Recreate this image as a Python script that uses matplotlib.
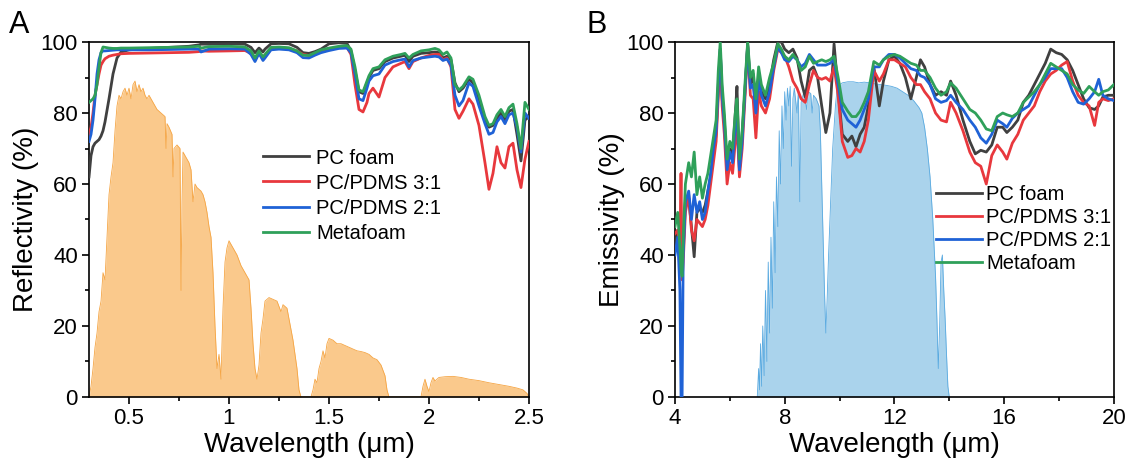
import numpy as np
import matplotlib
matplotlib.use("Agg")
import matplotlib.pyplot as plt
from matplotlib.ticker import MultipleLocator, FormatStrFormatter

plt.rcParams.update({
    "font.family": ["Liberation Sans", "DejaVu Sans"],
    "axes.linewidth": 1.2,
})

# ---------------- panel A: solar reflectivity ----------------
wl_a = [0.30, 0.31, 0.32, 0.33, 0.34, 0.35, 0.36, 0.37, 0.38, 0.40, 0.42, 0.44,
        0.46, 0.50, 0.60, 0.70, 0.80, 0.85, 0.86, 0.90, 1.00, 1.08, 1.11, 1.13,
        1.15, 1.17, 1.18, 1.21, 1.25, 1.30, 1.34, 1.37, 1.40, 1.43, 1.46, 1.50,
        1.55, 1.59, 1.61, 1.63, 1.65, 1.67, 1.69, 1.70, 1.72, 1.75, 1.78, 1.82,
        1.86, 1.88, 1.90, 1.92, 1.96, 2.00, 2.03, 2.05, 2.07, 2.09, 2.11, 2.13,
        2.15, 2.17, 2.20, 2.22, 2.25, 2.28, 2.30, 2.32, 2.34, 2.36, 2.38, 2.40,
        2.42, 2.44, 2.46, 2.48, 2.50]

refl_pc = [62, 68, 70.5, 71.5, 72, 72.5, 73.5, 75, 77.5, 84, 91, 95.5,
           97.2, 97.8, 98.2, 98.5, 98.8, 99.2, 99.4, 99.4, 99.5, 99.4, 98.5, 97,
           98.3, 97.2, 98, 99.5, 99.6, 99.5, 98.5, 97, 96.8, 97.3, 98, 99.5,
           99.8, 99.6, 97.5, 92, 86, 85.5, 88.5, 90, 92, 92.5, 94.5, 95.5,
           96, 96.3, 94.5, 96, 96.8, 97, 97.2, 97, 95.5, 96, 95, 88.5,
           86, 87, 89.5, 88.5, 84, 78, 76, 76.5, 78.5, 80, 78, 80.5,
           81, 74, 66.5, 78, 79]
refl_31 = [74, 76, 80, 85, 88, 91, 93.5, 94.5, 95.3, 96, 96.3, 96.5,
           96.7, 96.8, 96.9, 97, 97.1, 97.3, 97.5, 97.4, 97.5, 97.6, 96.8, 95,
           97, 95.2, 96, 98, 98.3, 98.2, 97.5, 96.5, 96.2, 96.8, 97.2, 97.8,
           98.5, 98.5, 96.5, 88, 81, 80.3, 83, 85.5, 87, 84.5, 90, 93,
           94, 94.5, 92.5, 94.5, 95.5, 96.2, 96.5, 96.5, 95, 95.5, 93, 81,
           78.5, 80.5, 84, 82.5, 76.5, 66, 58.5, 63, 70.5, 66, 64.5, 70.5,
           71.5, 64, 59, 67, 72]
refl_21 = [72, 74, 78, 84, 91, 95, 97, 97.5, 97.5, 97.6, 97.7, 97.8,
           97.8, 97.8, 97.8, 97.9, 98, 98, 97.2, 98, 98.1, 98, 96.5, 94.5,
           96.8, 94.8, 95.5, 97.8, 98, 97.8, 97, 95.6, 95.5, 96.3, 97, 97.6,
           98.2, 98.3, 97, 91, 84, 83.5, 87, 89, 90.5, 91, 93.5, 94.5,
           95, 95.2, 93, 94.8, 95.5, 95.8, 96, 95.8, 94.8, 95.2, 93.5, 85,
           82, 83.5, 88.5, 87.5, 82, 77, 74, 74.5, 77.5, 79, 77, 79.5,
           80, 76, 69, 80, 78.5]
refl_meta = [83, 83.5, 84, 85, 88, 93, 97, 98.6, 98.5, 98.3, 98.2, 98.2,
             98.3, 98.3, 98.4, 98.5, 98.6, 98.8, 98.3, 98.7, 98.8, 98.6, 97.5, 95.5,
             97.5, 95.8, 96.5, 98.5, 98.6, 98.4, 97.5, 96.3, 96.2, 97, 97.8, 98.3,
             98.8, 99, 98, 93, 86.5, 86, 89, 90.5, 92.5, 93, 95, 96,
             96.5, 96.8, 95.5, 96.5, 97.5, 97.8, 98.2, 97.8, 96.5, 97.2, 95.5, 88,
             86.5, 87.5, 90.2, 89.5, 85, 79, 76.5, 77, 79.5, 81, 79, 81.5,
             82.5, 77, 70, 83, 81]

# AM1.5 solar spectrum (normalised)
sun_wl = [0.30, 0.31, 0.32, 0.33, 0.34, 0.35, 0.36, 0.37, 0.38, 0.39, 0.40, 0.41,
          0.42, 0.43, 0.44, 0.45, 0.46, 0.47, 0.48, 0.49, 0.50, 0.51, 0.52, 0.53,
          0.54, 0.55, 0.56, 0.57, 0.58, 0.59, 0.60, 0.62, 0.64, 0.66, 0.68, 0.685,
          0.69, 0.70, 0.715, 0.72, 0.725, 0.74, 0.755, 0.76, 0.765, 0.77, 0.78, 0.80,
          0.81, 0.82, 0.83, 0.84, 0.86, 0.87, 0.88, 0.89, 0.90, 0.91, 0.92, 0.93,
          0.94, 0.95, 0.96, 0.97, 0.98, 0.99, 1.00, 1.02, 1.04, 1.06, 1.08, 1.10,
          1.11, 1.12, 1.13, 1.14, 1.15, 1.16, 1.17, 1.18, 1.20, 1.22, 1.24, 1.26,
          1.27, 1.29, 1.30, 1.32, 1.34, 1.35, 1.36, 1.41, 1.42, 1.43, 1.44, 1.45,
          1.46, 1.47, 1.48, 1.49, 1.50, 1.52, 1.54, 1.56, 1.58, 1.60, 1.62, 1.64,
          1.66, 1.68, 1.70, 1.72, 1.74, 1.76, 1.78, 1.79, 1.80, 1.96, 1.97, 1.98,
          1.99, 2.00, 2.01, 2.02, 2.03, 2.05, 2.08, 2.12, 2.16, 2.20, 2.25, 2.30,
          2.35, 2.40, 2.44, 2.47, 2.49, 2.50]
sun_val = [0, 3, 8, 14, 18, 24, 27, 35, 33, 45, 57, 62,
           66, 75, 82, 85, 84, 86, 87, 85, 87, 84, 88, 89,
           86, 88, 86, 87, 85, 84, 85, 83, 81, 80, 79, 70,
           77, 76, 74, 62, 70, 71, 70, 30, 55, 69, 68, 66,
           64, 55, 60, 59, 58, 57, 55, 52, 48, 45, 35, 20,
           8, 12, 5, 25, 38, 42, 44, 42, 40, 37, 35, 33,
           25, 15, 8, 5, 9, 18, 22, 27, 28, 27.5, 27, 24,
           26, 25, 22, 16, 8, 2, 0, 0, 2, 5, 4, 8,
           10, 13, 11, 15, 16.5, 16, 15, 15, 14.5, 14, 13.5, 13,
           12.8, 12.5, 12, 11, 10.5, 9, 6, 2, 0, 0, 3, 5,
           3, 1.5, 4, 5.5, 4.5, 5.5, 5.7, 5.8, 5.5, 5, 4.6, 4,
           3.5, 3, 2.5, 2, 1, 0]

# ---------------- panel B: mid-IR emissivity ----------------
wl_b = [4.0, 4.1, 4.18, 4.22, 4.26, 4.3, 4.38, 4.5, 4.6, 4.7, 4.8, 4.9,
        5.0, 5.1, 5.2, 5.3, 5.4, 5.5, 5.58, 5.65, 5.72, 5.8, 5.9, 6.0,
        6.1, 6.2, 6.26, 6.35, 6.45, 6.55, 6.65, 6.75, 6.85, 6.95, 7.05, 7.15,
        7.3, 7.45, 7.6, 7.75, 7.88, 8.0, 8.15, 8.3, 8.45, 8.6, 8.75, 8.9,
        9.05, 9.2, 9.35, 9.5, 9.65, 9.8, 9.95, 10.1, 10.3, 10.45, 10.6, 10.75,
        10.9, 11.05, 11.25, 11.45, 11.6, 11.8, 12.0, 12.2, 12.4, 12.6, 12.8, 12.95,
        13.1, 13.3, 13.5, 13.7, 13.9, 14.05, 14.25, 14.5, 14.75, 14.95, 15.15, 15.35,
        15.55, 15.75, 15.95, 16.1, 16.3, 16.5, 16.7, 16.9, 17.1, 17.3, 17.5, 17.7,
        17.9, 18.1, 18.3, 18.5, 18.7, 18.9, 19.1, 19.3, 19.45, 19.6, 19.8, 20.0]

emis_pc = [42, 47, 43, 40, 36, 42, 55, 56, 48, 39.5, 52, 53,
           52, 54, 58, 62, 68, 74, 87, 98, 84, 78, 63, 70,
           68, 80, 87.5, 64, 74, 86, 99.5, 88, 91, 80, 90, 86,
           84, 88, 95, 100, 100, 98, 97, 98, 95.5, 89, 84.5, 92,
           93, 90, 82, 74.5, 80, 99.5, 86, 74, 72, 73.5, 70.5, 74,
           76, 82, 93, 82, 89, 95, 96, 94, 90, 84, 90, 95,
           93, 88, 85, 86, 85, 89, 85, 78, 72, 68.5, 69.5, 69,
           71, 76, 76, 74.5, 76, 78, 83, 85, 88, 91, 94, 98,
           97, 96.5, 95, 92, 88, 84, 81.5, 81, 82, 84.5, 85, 85]
emis_31 = [46, 47, 42, 63, 33, 38, 52, 57, 47, 44, 50, 49,
           48, 50, 54, 60, 66, 72, 85, 97, 82, 74, 60, 66,
           63, 72, 77, 62, 70, 84, 99, 85, 84, 73, 86, 82,
           80, 84, 92, 98, 97, 96, 93, 89, 87, 84, 83, 88,
           92, 90, 89.5, 90, 89, 93, 85, 72, 67.5, 68, 70, 69,
           72, 78, 92, 89, 91, 95, 95, 94, 93, 90, 88, 88,
           86, 84, 80, 78, 77.5, 83, 80, 75, 69, 66, 65, 60,
           68, 71, 69, 67, 71.5, 74, 78, 80, 82, 86, 89, 91,
           92, 93.5, 94.5, 89, 85, 83, 82, 76.5, 83, 84, 83.5, 84]
emis_21 = [40, 45, 30, 0, 0, 40, 55, 58, 50, 57, 52, 55,
           50, 52, 58, 63, 70, 75, 88, 98, 85, 77, 64, 69,
           66, 77, 80, 64, 72, 86, 99, 87, 88, 80, 90, 85,
           82, 86, 93, 98.5, 97, 95, 94.5, 96, 95, 93, 94, 96.5,
           95, 93.5, 93.5, 93.5, 94, 95, 88, 81, 78, 77, 76, 78,
           81, 84, 93, 93, 95, 96.5, 96.5, 95.5, 94, 92.5, 92, 90.5,
           90, 88, 84, 83, 83.5, 85, 83, 81, 78, 76, 73, 71.5,
           74, 78, 77, 76, 78.5, 80, 81, 82, 85, 88, 90, 92.5,
           92.5, 92.5, 90, 86, 83, 82.5, 84, 86, 89.5, 85, 84, 83.5]
emis_meta = [48, 52, 42, 36, 34, 45, 60, 66, 62, 69, 57, 62,
             56, 60, 63, 68, 73, 78, 92, 100, 88, 80, 67, 72,
             70, 80, 84, 67, 75, 88, 100, 90, 92, 84, 93, 88,
             85, 90, 94, 99.5, 98, 96, 95, 96.5, 95, 92, 93, 96,
             94, 94.5, 95, 94.5, 95, 96, 90, 83, 80.5, 79, 79, 80.5,
             83, 86, 94.5, 93.5, 95, 96, 96.5, 96, 95, 94, 93.5, 92,
             92, 90, 87, 85, 86, 88.5, 87, 84, 81, 80, 78, 75.5,
             75, 79, 80, 79.5, 79, 80, 83, 84.5, 86, 88, 91, 94,
             93, 92, 91, 88, 86.5, 85.5, 87.5, 86, 85, 86, 86.5, 88]

# atmospheric transmittance window (normalised)
atm_wl = [7.00, 7.05, 7.08, 7.12, 7.16, 7.20, 7.25, 7.30, 7.35, 7.40, 7.45, 7.50,
          7.55, 7.60, 7.65, 7.70, 7.75, 7.80, 7.85, 7.90, 7.95, 8.00, 8.05, 8.10,
          8.15, 8.20, 8.25, 8.30, 8.35, 8.45, 8.50, 8.55, 8.60, 8.70, 8.80, 8.85,
          8.95, 9.00, 9.05, 9.15, 9.25, 9.30, 9.35, 9.40, 9.45, 9.50, 9.55, 9.60,
          9.65, 9.70, 9.75, 9.80, 9.85, 9.90, 10.0, 10.1, 10.3, 10.5, 10.7, 10.9,
          11.1, 11.3, 11.5, 11.7, 11.9, 12.1, 12.3, 12.5, 12.7, 12.9, 13.0, 13.1,
          13.2, 13.3, 13.4, 13.5, 13.55, 13.6, 13.65, 13.7, 13.75, 13.8, 13.85, 13.9,
          13.95, 14.0]
atm_val = [0, 8, 2, 15, 3, 20, 6, 30, 10, 38, 18, 45,
           25, 55, 35, 62, 48, 75, 60, 82, 70, 86, 78, 87,
           82, 87.5, 65, 84, 87, 80, 86.5, 55, 83, 86, 81, 86,
           85.5, 80, 85, 84, 82, 75, 60, 45, 30, 18, 28, 40,
           50, 60, 70, 76, 82, 86, 88, 88.5, 88.8, 88.8, 88.5, 88.7,
           88.5, 88.2, 88, 87.8, 87.5, 87, 86, 85, 83.5, 81.5, 80, 76,
           70, 62, 50, 34, 22, 8, 20, 38, 40, 30, 22, 12,
           3, 0]

LABELS = ["PC foam", "PC/PDMS 3:1", "PC/PDMS 2:1", "Metafoam"]
COLORS = ["#404040", "#E8383D", "#1F62D6", "#2FA05A"]

fig = plt.figure(figsize=(11.31, 4.67), dpi=100)
ax_a = fig.add_axes([0.0787, 0.150, 0.389, 0.760])
ax_b = fig.add_axes([0.5968, 0.150, 0.388, 0.760])

# panel A
ax_a.fill_between(sun_wl, 0, sun_val, color="#FAC98C", lw=0, zorder=1)
ax_a.plot(sun_wl, sun_val, color="#F5A544", lw=0.6, zorder=1)
for ys, lab, c in zip([refl_pc, refl_31, refl_21, refl_meta], LABELS, COLORS):
    ax_a.plot(wl_a, ys, color=c, lw=2, label=lab, zorder=3)
ax_a.set_xlim(0.3, 2.5)
ax_a.set_ylim(0, 100)
ax_a.xaxis.set_major_locator(MultipleLocator(0.5))
ax_a.xaxis.set_minor_locator(MultipleLocator(0.25))
ax_a.xaxis.set_major_formatter(FormatStrFormatter("%g"))
ax_a.set_ylabel("Reflectivity (%)", fontsize=20, labelpad=1.5)
ax_a.legend(loc="upper left", bbox_to_anchor=(0.395, 0.70), frameon=False,
            fontsize=14.5, handlelength=2.3, handletextpad=0.35,
            labelspacing=0.3, borderpad=0, borderaxespad=0)

# panel B
ax_b.fill_between(atm_wl, 0, atm_val, color="#AAD3EC", lw=0, zorder=1)
ax_b.plot(atm_wl, atm_val, color="#5AAAE0", lw=0.6, zorder=1)
for ys, lab, c in zip([emis_pc, emis_31, emis_21, emis_meta], LABELS, COLORS):
    ax_b.plot(wl_b, ys, color=c, lw=2, label=lab, zorder=3)
ax_b.set_xlim(4, 20)
ax_b.set_ylim(0, 100)
ax_b.xaxis.set_major_locator(MultipleLocator(4))
ax_b.xaxis.set_minor_locator(MultipleLocator(2))
ax_b.set_ylabel("Emissivity (%)", fontsize=20, labelpad=1.5)
ax_b.legend(loc="upper left", bbox_to_anchor=(0.595, 0.597), frameon=False,
            fontsize=14.5, handlelength=2.3, handletextpad=0.2,
            labelspacing=0.2, borderpad=0, borderaxespad=0)

for ax in (ax_a, ax_b):
    ax.yaxis.set_major_locator(MultipleLocator(20))
    ax.yaxis.set_minor_locator(MultipleLocator(10))
    ax.set_xlabel("Wavelength (\u03bcm)", fontsize=20, labelpad=2)
    ax.tick_params(which="both", direction="out", top=False, right=False,
                   width=1.2, labelsize=16, pad=3)
    ax.tick_params(which="major", length=5)
    ax.tick_params(which="minor", length=3)

fig.text(0.008, 0.93, "A", fontsize=22)
fig.text(0.519, 0.93, "B", fontsize=22)

fig.savefig("out.png", dpi=100)
